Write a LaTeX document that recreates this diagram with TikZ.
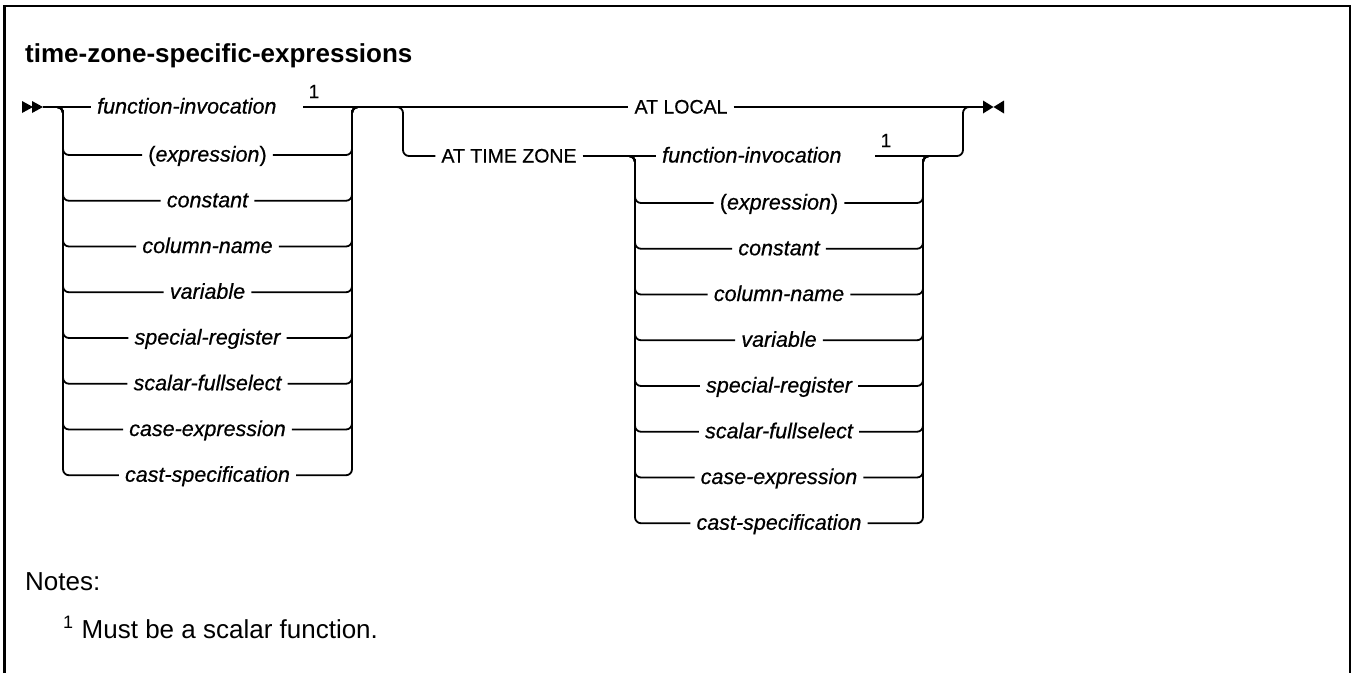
\documentclass[tikz,border=0pt]{standalone}
\usepackage{fontspec}
\setmainfont{Liberation Sans}
\newfontfamily\railfont[FakeBold=0.6]{Liberation Sans}
\begin{document}
\begin{tikzpicture}[x=1pt,y=-1pt,
  railline/.style={line width=1.8pt, rounded corners=6pt},
  railv/.style={line width=2.5pt},
  railitem/.style={inner xsep=6pt, inner ysep=0pt, text height=15pt, text depth=2pt,
    font=\railfont\fontsize{21.5}{24}\selectfont\itshape},
  railkw/.style={inner xsep=6pt, inner ysep=0pt, text height=15pt, text depth=2pt,
    font=\railfont\fontsize{19.5}{22}\selectfont},
  railsup/.style={inner sep=0pt, anchor=base, font=\railfont\fontsize{19}{20}\selectfont},
  plain/.style={anchor=base west, inner sep=0pt, font=\fontsize{26}{30}\selectfont}]
\useasboundingbox (0,0) rectangle (1353,673);
% frame
\draw[line width=2.4pt, line join=miter] (4.5,673) -- (4.5,6) -- (1350,6) -- (1350,673);
% title and notes
\node[plain, font=\bfseries\fontsize{26}{30}\selectfont] (title) at (25,62) {time-zone-specific-expressions};
\node[plain] (notes) at (25,590) {Notes:};
\node[plain] (note1) at (63,638) {\raisebox{10pt}{\fontsize{18}{18}\selectfont 1}\hspace{8.5pt}Must be a scalar function.};
% start and end marks
\coordinate (start) at (43,107);
\fill (22,101) -- (33,107) -- (22,113) -- cycle;
\fill (32,101) -- (43,107) -- (32,113) -- cycle;
\coordinate (endm) at (983,107);
\fill (983,100.5) -- (993.5,107) -- (983,113.5) -- cycle;
\fill (1004,100.5) -- (993.5,107) -- (1004,113.5) -- cycle;
% junction coordinates
\coordinate (gaLin) at (51,107);
\coordinate (gaL) at (63,107);
\coordinate (gaR) at (352,107);
\coordinate (gaRout) at (364,107);
\coordinate (bTin) at (391,107);
\coordinate (bT) at (403,107);
\coordinate (gbLin) at (623,157);
\coordinate (gbL) at (635,157);
\coordinate (gbR) at (923,157);
\coordinate (gbRout) at (935,157);
\coordinate (oE) at (963,107);
\coordinate (oEout) at (975,107);
\coordinate (ga0r) at (303,107);
\coordinate (gb0r) at (875,157);
% first group, first row
\node[railitem, anchor=west] (ga0) at (91,107) {function-invocation};
\node[railsup] (s1) at (314,98) {1};
\draw[railline] (start) -- (ga0.west);
% main line with AT LOCAL
\node[railkw] (AL) at (681,107) {AT LOCAL};
\draw[railline] (ga0r) -- (AL.west);
\draw[railline] (AL.east) -- (endm);
% first group, other rows
\foreach \t [count=\k] in {{{\upshape(}expression{\upshape)}},constant,column-name,variable,special-register,scalar-fullselect,case-expression,cast-specification}{
  \pgfmathsetmacro\yy{155+(\k-1)*45.75}
  \node[railitem] (ga\k) at (207.5,\yy) {\t};
  \draw[railline] (gaLin) -- (gaL) |- (ga\k.west);
  \draw[railline] (ga\k.east) -| (gaR) -- (gaRout);
}
\draw[railv] ([yshift=-6pt]gaL) -- ([yshift=6pt]gaL |- ga8.west);
\draw[railv] ([yshift=-6pt]gaR) -- ([yshift=6pt]gaR |- ga8.east);
% AT TIME ZONE branch
\node[railkw] (ATZ) at (509,156) {AT TIME ZONE};
\draw[railline] (bTin) -- (bT) |- (ATZ.west);
% second group, first row
\node[railitem, anchor=west] (gb0) at (656,156) {function-invocation};
\node[railsup] (s2) at (886,147) {1};
\draw[railline] (ATZ.east) -- (gb0.west);
\draw[railline] (gb0r |- gb0.east) -| (oE) -- (oEout);
% second group, other rows
\foreach \t [count=\k] in {{{\upshape(}expression{\upshape)}},constant,column-name,variable,special-register,scalar-fullselect,case-expression,cast-specification}{
  \pgfmathsetmacro\yy{203+(\k-1)*45.75}
  \node[railitem] (gb\k) at (779,\yy) {\t};
  \draw[railline] (gbLin |- gb0.west) -- (gbL |- gb0.west) |- (gb\k.west);
  \draw[railline] (gb\k.east) -| (gbR |- gb0.east) -- (gbRout |- gb0.east);
}
\draw[railv] ([yshift=-6pt]gbL |- gb0.west) -- ([yshift=6pt]gbL |- gb8.west);
\draw[railv] ([yshift=-6pt]gbR |- gb0.east) -- ([yshift=6pt]gbR |- gb8.east);
\end{tikzpicture}
\end{document}
